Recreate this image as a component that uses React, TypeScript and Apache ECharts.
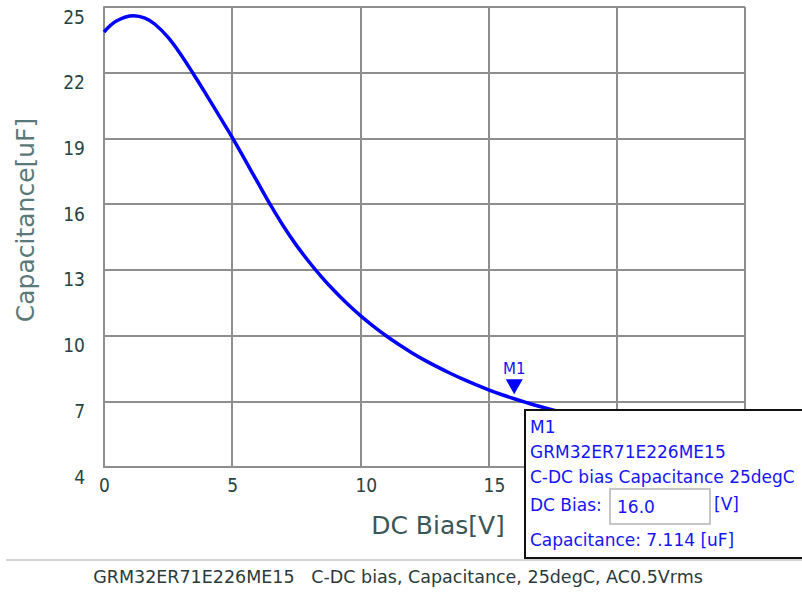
import React, { useEffect, useRef } from 'react';
import * as echarts from 'echarts';

const biasV = [0, 0.5, 1.15, 1.6, 2, 2.5, 3, 3.5, 4, 4.5, 5, 5.5, 6, 6.5, 7, 7.5, 8, 8.5, 9, 9.5, 10, 10.5, 11, 11.5, 12, 12.5, 13, 13.5, 14, 14.5, 15, 15.5, 16, 16.5, 17, 17.5, 18, 19, 20, 21, 22, 23, 24, 25];
const capUF = [23.86, 24.37, 24.6, 24.49, 24.2, 23.61, 22.82, 21.92, 20.98, 20.02, 19.05, 18.02, 16.98, 15.95, 14.99, 14.13, 13.36, 12.66, 12.02, 11.44, 10.91, 10.43, 9.99, 9.59, 9.22, 8.88, 8.57, 8.28, 8.01, 7.76, 7.525, 7.31, 7.114, 6.934, 6.764, 6.604, 6.454, 6.18, 5.95, 5.75, 5.57, 5.42, 5.28, 5.15];

const xMin = 0, xMax = 25, xStep = 5;
const yMin = 4, yMax = 25, yStep = 3;
const xHiddenFrom = 20; // labels under the marker box are covered in the reference

const markerName = 'M1';
const markerBias = 16.0;
const markerCap = 7.114;

const partNo = 'GRM32ER71E226ME15';
const curveTitle = 'C-DC bias Capacitance 25degC';
const caption = 'GRM32ER71E226ME15   C-DC bias, Capacitance, 25degC, AC0.5Vrms';

export default function App() {
  const ref = useRef<HTMLDivElement>(null);
  useEffect(() => {
    if (!ref.current) return;
    const chart = echarts.init(ref.current, undefined, { renderer: 'svg' });
    const gridColor = '#8e8e8e';
    const labelColor = '#274444';
    const blue = '#1414f5';
    const boxFont = 'DejaVu Sans';
    const tickFont = "'DejaVu Sans Condensed', 'Liberation Sans', sans-serif";
    chart.setOption({
      animation: false,
      backgroundColor: '#ffffff',
      grid: { left: 104, right: 57, top: 7, bottom: 125, containLabel: false },
      xAxis: {
        type: 'value',
        min: xMin,
        max: xMax,
        interval: xStep,
        name: 'DC Bias[V]',
        nameLocation: 'middle',
        nameGap: 46,
        nameTextStyle: { fontFamily: 'DejaVu Sans', fontSize: 25, color: '#3b5656', padding: [0, 0, 0, 27] },
        axisLine: { show: true, lineStyle: { color: gridColor, width: 2 } },
        axisTick: { show: false },
        axisLabel: {
          fontFamily: tickFont,
          fontSize: 19,
          color: labelColor,
          margin: 8,
          align: 'left',
          padding: [0, 0, 0, -5],
          formatter: (v: number) => (v < xHiddenFrom ? String(v) : ''),
        },
        splitLine: { show: true, lineStyle: { color: gridColor, width: 2 } },
      },
      yAxis: {
        type: 'value',
        min: yMin,
        max: yMax,
        interval: yStep,
        name: 'Capacitance[uF]',
        nameLocation: 'middle',
        nameGap: 66,
        nameTextStyle: { fontFamily: 'DejaVu Sans', fontSize: 25, color: '#5a7878', padding: [0, 0, 0, 34] },
        axisLine: { show: true, lineStyle: { color: gridColor, width: 2 } },
        axisTick: { show: false },
        axisLabel: {
          fontFamily: tickFont,
          fontSize: 19,
          color: labelColor,
          margin: 19,
          verticalAlign: 'top',
        },
        splitLine: { show: true, lineStyle: { color: gridColor, width: 2 } },
      },
      series: [
        {
          type: 'line',
          name: partNo,
          data: biasV.map((v, i) => [v, capUF[i]]),
          smooth: 0.4,
          showSymbol: false,
          lineStyle: { color: '#0000ff', width: 3.5 },
          z: 3,
          markPoint: {
            symbol: 'triangle',
            symbolRotate: 180,
            symbolSize: [17, 15],
            symbolOffset: [0, -12],
            itemStyle: { color: '#0000ff' },
            label: {
              show: true,
              position: 'top',
              distance: 3,
              formatter: markerName,
              color: blue,
              fontFamily: 'DejaVu Sans',
              fontSize: 15,
            },
            data: [{ coord: [markerBias, markerCap] }],
          },
        },
      ],
      graphic: [
        {
          type: 'line',
          z: 50,
          shape: { x1: 6, y1: 560, x2: 802, y2: 560 },
          style: { stroke: '#d4d4d4', lineWidth: 2 },
        },
        {
          type: 'text',
          z: 50,
          x: 398,
          y: 577,
          style: {
            text: caption,
            fontFamily: 'DejaVu Sans',
            fontSize: 17.5,
            fill: '#2b3a3a',
            align: 'center',
            verticalAlign: 'middle',
          },
        },
        {
          type: 'group',
          z: 100,
          children: [
            {
              type: 'rect',
              z: 100,
              shape: { x: 525, y: 410, width: 290, height: 148 },
              style: { fill: '#ffffff', stroke: '#111111', lineWidth: 2 },
            },
            {
              type: 'text', z: 101, x: 530, y: 427,
              style: { text: markerName, fontFamily: boxFont, fontSize: 17, fill: blue, verticalAlign: 'middle' },
            },
            {
              type: 'text', z: 101, x: 530, y: 452,
              style: { text: partNo, fontFamily: boxFont, fontSize: 17, fill: blue, verticalAlign: 'middle' },
            },
            {
              type: 'text', z: 101, x: 530, y: 477,
              style: { text: curveTitle, fontFamily: boxFont, fontSize: 17, fill: blue, verticalAlign: 'middle' },
            },
            {
              type: 'text', z: 101, x: 530, y: 505,
              style: { text: 'DC Bias:', fontFamily: boxFont, fontSize: 17, fill: blue, verticalAlign: 'middle' },
            },
            {
              type: 'rect', z: 101,
              shape: { x: 610, y: 489, width: 100, height: 35 },
              style: { fill: '#ffffff', stroke: '#b4b4b4', lineWidth: 1.5 },
            },
            {
              type: 'text', z: 102, x: 617, y: 507,
              style: { text: markerBias.toFixed(1), fontFamily: boxFont, fontSize: 17, fill: blue, verticalAlign: 'middle' },
            },
            {
              type: 'text', z: 101, x: 714, y: 504,
              style: { text: '[V]', fontFamily: boxFont, fontSize: 17, fill: blue, verticalAlign: 'middle' },
            },
            {
              type: 'text', z: 101, x: 530, y: 540,
              style: { text: 'Capacitance: ' + markerCap.toFixed(3) + ' [uF]', fontFamily: boxFont, fontSize: 17, fill: blue, verticalAlign: 'middle' },
            },
          ],
        },
      ],
    });
    return () => chart.dispose();
  }, []);
  return <div ref={ref} style={{ width: 802, height: 592, position: 'absolute', left: 0, top: 0 }} />;
}
